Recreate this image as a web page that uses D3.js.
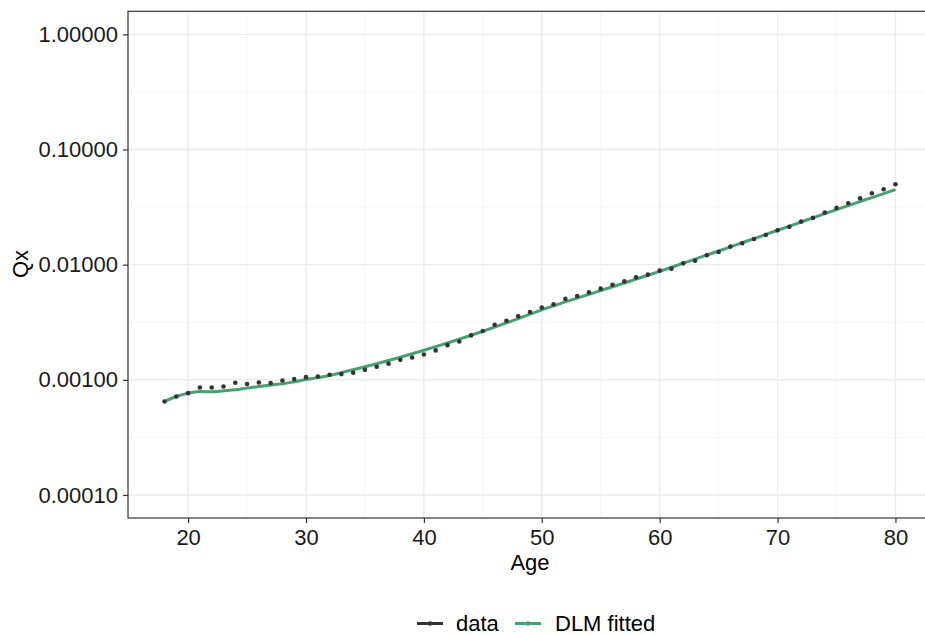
<!DOCTYPE html>
<html>
<head>
<meta charset="utf-8">
<script src="https://cdn.jsdelivr.net/npm/d3@7"></script>
<style>
  html, body { margin: 0; padding: 0; background: #fff; }
  svg { display: block; }
  text { font-family: "Liberation Sans", Arial, sans-serif; }
</style>
</head>
<body>
<svg id="chart" width="925" height="635"></svg>
<script>
const ages = d3.range(18, 81);
const observedQx = [
  0.000648, 0.000716, 0.000766, 0.000857, 0.000857, 0.000875, 0.000942, 0.000918,
  0.000947, 0.000936, 0.000986, 0.001014, 0.001055, 0.001069, 0.001105, 0.001121,
  0.00115, 0.00122, 0.00130, 0.00138, 0.00149, 0.00156, 0.00166, 0.00180,
  0.00200, 0.00215, 0.00243, 0.00265, 0.00301, 0.00326, 0.00356, 0.00388,
  0.00425, 0.00452, 0.00504, 0.00535, 0.00575, 0.00619, 0.00670, 0.00716,
  0.00776, 0.00819, 0.00887, 0.00923, 0.01026, 0.01080, 0.01205, 0.01289,
  0.01435, 0.01532, 0.01671, 0.01811, 0.01986, 0.02130, 0.02365, 0.02546,
  0.02832, 0.03111, 0.03410, 0.03773, 0.04171, 0.04518, 0.04990
];
const fittedQx = [
  0.000648, 0.000716, 0.000766, 0.000791, 0.000786, 0.000802, 0.000818, 0.000847,
  0.000875, 0.000900, 0.000923, 0.000961, 0.001006, 0.001045, 0.001090, 0.001155,
  0.001222, 0.001297, 0.001380, 0.001472, 0.001572, 0.001683, 0.001805, 0.001940,
  0.002089, 0.002254, 0.002438, 0.002641, 0.002866, 0.003118, 0.003398, 0.003712,
  0.004053, 0.004391, 0.004747, 0.005124, 0.005527, 0.005965, 0.006427, 0.006934,
  0.007496, 0.008087, 0.008744, 0.00949, 0.0103, 0.01117, 0.01212, 0.01313,
  0.01426, 0.0155, 0.01683, 0.01831, 0.01988, 0.02158, 0.02347, 0.02547,
  0.0277, 0.03008, 0.03258, 0.03532, 0.03825, 0.04143, 0.04489
];
const xTicks = [20, 30, 40, 50, 60, 70, 80];
const xMinorTicks = [15, 25, 35, 45, 55, 65, 75];
const yTicks = [1, 0.1, 0.01, 0.001, 0.0001];
const yTickLabels = ["1.00000", "0.10000", "0.01000", "0.00100", "0.00010"];
const yMinorTicks = [Math.pow(10, -0.5), Math.pow(10, -1.5), Math.pow(10, -2.5), Math.pow(10, -3.5)];
const seriesNames = ["data", "DLM fitted"];

const colData = "#333333";
const colFit = "#47A070";

const svg = d3.select("#chart");
const pLeft = 128, pRight = 932, pTop = 11.3, pBottom = 518;

const x = d3.scaleLinear().domain([14.9, 83.1]).range([pLeft, pRight]);
const y = d3.scaleLog().domain([Math.pow(10, -4.2), Math.pow(10, 0.2)]).range([pBottom, pTop]);

const grid = svg.append("g");
grid.selectAll(".xminor").data(xMinorTicks).join("line")
  .attr("x1", d => x(d)).attr("x2", d => x(d)).attr("y1", pTop).attr("y2", pBottom)
  .attr("stroke", "#F2F2F2").attr("stroke-width", 0.8);
grid.selectAll(".yminor").data(yMinorTicks).join("line")
  .attr("y1", d => y(d)).attr("y2", d => y(d)).attr("x1", pLeft).attr("x2", pRight)
  .attr("stroke", "#F2F2F2").attr("stroke-width", 0.8);
grid.selectAll(".xmajor").data(xTicks).join("line")
  .attr("x1", d => x(d)).attr("x2", d => x(d)).attr("y1", pTop).attr("y2", pBottom)
  .attr("stroke", "#EBEBEB").attr("stroke-width", 1.4);
grid.selectAll(".ymajor").data(yTicks).join("line")
  .attr("y1", d => y(d)).attr("y2", d => y(d)).attr("x1", pLeft).attr("x2", pRight)
  .attr("stroke", "#EBEBEB").attr("stroke-width", 1.4);

// fitted line
const line = d3.line().x((d, i) => x(ages[i])).y(d => y(d)).curve(d3.curveMonotoneX);
svg.append("path").datum(fittedQx)
  .attr("d", line).attr("fill", "none").attr("stroke", colFit)
  .attr("stroke-width", 3).attr("stroke-linejoin", "round");

// observed points
svg.append("g").selectAll("circle").data(observedQx).join("circle")
  .attr("cx", (d, i) => x(ages[i])).attr("cy", d => y(d)).attr("r", 2.3)
  .attr("fill", colData);

// panel border
svg.append("rect").attr("x", pLeft).attr("y", pTop)
  .attr("width", pRight - pLeft).attr("height", pBottom - pTop)
  .attr("fill", "none").attr("stroke", "#333333").attr("stroke-width", 1.2);

// axes
const xAxis = d3.axisBottom(x).tickValues(xTicks).tickSize(5).tickPadding(6).tickFormat(d3.format("d"));
const gx = svg.append("g").attr("transform", `translate(0,${pBottom})`).call(xAxis);
gx.select(".domain").remove();
gx.selectAll(".tick line").attr("stroke", "#333333").attr("stroke-width", 1.2);
gx.selectAll(".tick text").attr("fill", "#1A1A1A").attr("font-size", 22)
  .attr("font-family", "Liberation Sans, Arial, sans-serif");

const yAxis = d3.axisLeft(y).tickValues(yTicks).tickSize(5).tickPadding(5)
  .tickFormat((d, i) => yTickLabels[i]);
const gy = svg.append("g").attr("transform", `translate(${pLeft},0)`).call(yAxis);
gy.select(".domain").remove();
gy.selectAll(".tick line").attr("stroke", "#333333").attr("stroke-width", 1.2);
gy.selectAll(".tick text").attr("fill", "#1A1A1A").attr("font-size", 22)
  .attr("font-family", "Liberation Sans, Arial, sans-serif");

// axis titles
svg.append("text").attr("x", x(49)).attr("y", 570).attr("text-anchor", "middle")
  .attr("font-size", 22).attr("fill", "#000").text("Age");
svg.append("text").attr("transform", "translate(28,264) rotate(-90)")
  .attr("text-anchor", "middle").attr("font-size", 22).attr("fill", "#000").text("Qx");

// legend
const legend = svg.append("g");
const legItems = [
  { name: seriesNames[0], col: colData, x0: 417, tx: 456 },
  { name: seriesNames[1], col: colFit, x0: 515, tx: 555 }
];
legItems.forEach(it => {
  legend.append("line").attr("x1", it.x0).attr("x2", it.x0 + 26)
    .attr("y1", 623.5).attr("y2", 623.5).attr("stroke", it.col).attr("stroke-width", 3);
  legend.append("circle").attr("cx", it.x0 + 13).attr("cy", 623.5).attr("r", 2.3).attr("fill", it.col);
  legend.append("text").attr("x", it.tx).attr("y", 631).attr("font-size", 22)
    .attr("fill", "#000").text(it.name);
});
</script>
</body>
</html>
